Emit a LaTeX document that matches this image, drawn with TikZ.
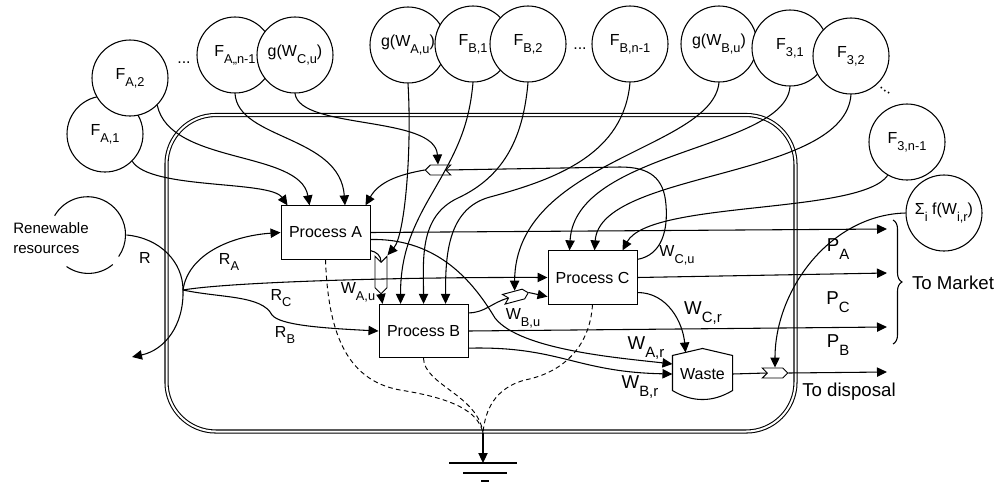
\documentclass[tikz,border=0pt]{standalone}
\usepackage{fontspec}
\setmainfont{Liberation Sans}
\usepackage{graphicx}
\usetikzlibrary{arrows.meta,calc,shapes.symbols,decorations.pathreplacing}
\newcommand{\sbx}[1]{\raisebox{-0.8ex}{\scalebox{0.8}{#1}}}

\begin{document}
\begin{tikzpicture}[x=0.75pt,y=0.75pt,line width=0.8pt,
	every node/.style={font=\fontsize{12}{14}\selectfont},
	proc/.style={draw,fill=white,minimum width=66.75pt,minimum height=40pt,inner sep=0pt,line width=0.7pt},
	fcirc/.style={draw,fill=white,circle,minimum size=57pt,inner sep=0pt},
	junc/.style={draw,fill=white,signal,inner sep=0pt,minimum width=19pt,minimum height=7.5pt,line width=0.7pt},
	arr/.style={-{Triangle[length=7.5pt,width=7pt]}},
	biglbl/.style={font=\fontsize{14}{16}\selectfont},
	drain/.style={dash pattern=on 3.5pt off 2.5pt,line width=0.7pt}]
			\useasboundingbox (0,0) rectangle (997,-483);
			\draw [double,double distance=1.5pt,line width=0.8pt,rounded corners=37pt] (166.5,-115) rectangle (795.5,-431.5);
			\node[proc] (procA) at (325.5,-232.5) {Process A};
			\node[proc] (procB) at (423.5,-331) {Process B};
			\node[proc] (procC) at (592.5,-277.5) {Process C};
			\node[minimum width=44.25pt,minimum height=37.5pt,inner sep=0pt] (waste) at (702.5,-374) {Waste};
			\draw ($(waste.north west)+(0,-7)$) -- (waste.north) -- ($(waste.north east)+(0,-7)$) -- ($(waste.south east)+(0,9)$) .. controls ($(waste.south east)+(-20,-3)$) and ($(waste.south west)+(20,-3)$) .. ($(waste.south west)+(0,9)$) -- cycle;
			\node[fcirc] (fa1) at (105,-134) {F\sbx{A,1}};
			\node[fcirc] (fa2) at (130,-78) {F\sbx{A,2}};
			\node (dotsA) at (184,-63) {...};
			\node[fcirc] (fan) at (235,-55) {F\sbx{A,,n-1}};
			\node[fcirc] (gwc) at (295,-55) {g(W\sbx{C,u})};
			\node[fcirc] (gwa) at (408,-45) {g(W\sbx{A,u})};
			\node[fcirc] (fb1) at (473,-44) {F\sbx{B,1}};
			\node[fcirc] (fb2) at (528,-44) {F\sbx{B,2}};
			\node (dotsB) at (580,-49) {...};
			\node[fcirc] (fbn) at (630,-44) {F\sbx{B,n-1}};
			\node[fcirc] (gwb) at (719,-44) {g(W\sbx{B,u})};
			\node[fcirc] (f31) at (790,-48) {F\sbx{3,1}};
			\node[fcirc] (f32) at (851,-56) {F\sbx{3,2}};
			\node[rotate=-35] (dots3) at (885,-91) {...};
			\node[fcirc] (f3n) at (907,-142) {F\sbx{3,n-1}};
			\node[fcirc] (sumf) at (944,-213) {Σ\sbx{i} f(W\sbx{i,r})};
			\node[circle,minimum size=57pt,inner sep=0pt] (renew) at (88,-235) {};
			\draw (renew.150) arc[start angle=150,end angle=-35,radius=38];
			\draw (renew.-50) arc[start angle=-50,end angle=-125,radius=38];
			\node[font=\fontsize{11.3}{15}\selectfont,align=left] (renewtxt) at (51,-238) {Renewable\\resources};
			\node[junc,signal to=west,signal from=east] (jc) at (438,-170) {};
			\node[junc,signal to=south,signal from=north,minimum width=9pt,minimum height=19pt] (ja) at (381,-275) {};
			\node[junc,signal to=east,signal from=west,rotate=15] (jb) at (516,-296) {};
			\node[junc,signal to=east,signal from=west] (jd) at (775,-373) {};
			\coordinate (rsplit) at (183,-290);
			\coordinate (rout) at (132,-357);
			\coordinate (mA) at (887,-229);
			\coordinate (mC) at (887,-273);
			\coordinate (mB) at (887,-327);
			\coordinate (dis) at (887,-372);
			\coordinate (sink) at (483,-433);
			\coordinate (gnd) at (483,-463);
			\draw [arr] (fa1.-45) .. controls (150,-190) and (270,-180) .. ($(procA.north west)+(7,0)$);
			\draw [arr] (fa2.-45) .. controls (170,-165) and (300,-150) .. ($(procA.north west)+(29,0)$);
			\draw [arr] (fan.south) .. controls (238,-140) and (340,-135) .. ($(procA.north)+(19.5,0)$);
			\draw [arr] (gwc.south) .. controls (300,-130) and (435,-115) .. (jc.north);
			\draw [arr] (jc.west) to[out=190,in=60] ($(procA.north east)+(-5,0)$);
			\draw ($(procC.north east)+(0,-9)$) .. controls (662,-255) and (668,-230) .. (666,-205) .. controls (664,-178) and (650,-167) .. (620,-167) -- (jc.east);
			\draw [arr] (gwa.south) .. controls (412,-150) and (405,-235) .. (ja.north east);
			\draw ($(procA.south east)+(0,9)$) to[out=-10,in=90] (ja.north);
			\draw [arr] (ja.south) -- ($(procB.north west)+(4,0)$);
			\draw [arr] (fb1.south) to[out=-95,in=60] (430,-197) to[out=-120,in=90] ($(procB.north west)+(22,0)$);
			\draw [arr] (fb2.south) to[out=-95,in=25] (458,-198) to[out=-155,in=90] ($(procB.north west)+(45,0)$);
			\draw [arr] (fbn.south) to[out=-95,in=15] (490,-197) to[out=-165,in=90] ($(procB.north west)+(67,0)$);
			\draw [arr] (gwb.south) .. controls (712,-150) and (515,-160) .. (jb.north);
			\draw [arr] (f31.south) .. controls (785,-150) and (575,-150) .. ($(procC.north west)+(22,0)$);
			\draw [arr] (f32.south) .. controls (845,-180) and (600,-170) .. ($(procC.north west)+(47,0)$);
			\draw [arr] (f3n.-120) .. controls (860,-215) and (650,-200) .. ($(procC.north east)+(-15,0)$);
			\draw [arr] (renew.east) .. controls (160,-238) and (183,-262) .. (rsplit) .. controls (184,-325) and (165,-350) .. (rout);
			\draw [arr] (rsplit) .. controls (188,-255) and (230,-236) .. (procA.west);
			\draw [arr] (rsplit) .. controls (230,-282) and (400,-277) .. (procC.west);
			\draw [arr] (rsplit) .. controls (220,-298) and (262,-295) .. (272,-315) .. controls (280,-325) and (320,-328) .. (procB.west);
			\draw [arr] (procA.east) -- (mA);
			\draw [arr] (procC.east) -- (mC);
			\draw [arr] (procB.east) -- (mB);
			\draw [arr] ($(procA.east)+(0,-7)$) .. controls (440,-238) and (475,-285) .. (495,-318) .. controls (520,-350) and (620,-358) .. ($(waste.west)+(0,10)$);
			\draw [arr] ($(procB.south east)+(0,10)$) .. controls (560,-346) and (575,-372) .. (waste.west);
			\draw [arr] ($(procC.east)+(0,-15)$) to[out=0,in=95] ($(waste.north)+(-17,-4)$);
			\draw ($(procB.north east)+(0,-9)$) to[out=0,in=195] (jb.west);
			\draw [arr] (jb.east) -- ($(procC.south west)+(0,8)$);
			\draw (waste.east) -- (jd.west);
			\draw [arr] (jd.east) -- (dis);
			\draw [arr] (sumf.west) .. controls (830,-215) and (775,-290) .. (jd.north);
			\draw [decorate,decoration={brace,amplitude=6.75pt}] (893,-220) -- (893,-344);
			\draw [drain] (procA.south) .. controls (328,-330) and (345,-380) .. (400,-390) .. controls (450,-398) and (478,-410) .. (sink);
			\draw [drain] (procB.south) .. controls (424,-385) and (478,-395) .. (sink);
			\draw [drain] (procC.south) .. controls (590,-345) and (565,-372) .. (525,-380) .. controls (495,-388) and (485,-410) .. (sink);
			\draw [arr] (sink) -- (gnd);
			\draw ($(gnd)+(-34,0)$) -- ($(gnd)+(34,0)$);
			\draw ($(gnd)+(-20,-10)$) -- ($(gnd)+(24,-10)$);
			\draw ($(gnd)+(-2,-18)$) -- ($(gnd)+(6,-18)$);
			\node (lR) at (145,-258) {R};
			\node (lRA) at (229,-262) {R\sbx{A}};
			\node (lRC) at (281,-298) {R\sbx{C}};
			\node (lRB) at (285,-335) {R\sbx{B}};
			\node (lWAu) at (358,-292) {W\sbx{A,u}};
			\node (lWBu) at (523,-318) {W\sbx{B,u}};
			\node (lWCu) at (677,-255) {W\sbx{C,u}};
			\node[biglbl] (lWCr) at (703,-313) {W\sbx{C,r}};
			\node[biglbl] (lWAr) at (646,-348) {W\sbx{A,r}};
			\node[biglbl] (lWBr) at (640,-387) {W\sbx{B,r}};
			\node[biglbl] (lPA) at (838,-249) {P\sbx{A}};
			\node[biglbl] (lPC) at (838,-302) {P\sbx{C}};
			\node[biglbl] (lPB) at (838,-345) {P\sbx{B}};
			\node[biglbl] (lmarket) at (953,-283) {To Market};
			\node[biglbl] (ldisposal) at (849,-392) {To disposal};
		\end{tikzpicture}
\end{document}
